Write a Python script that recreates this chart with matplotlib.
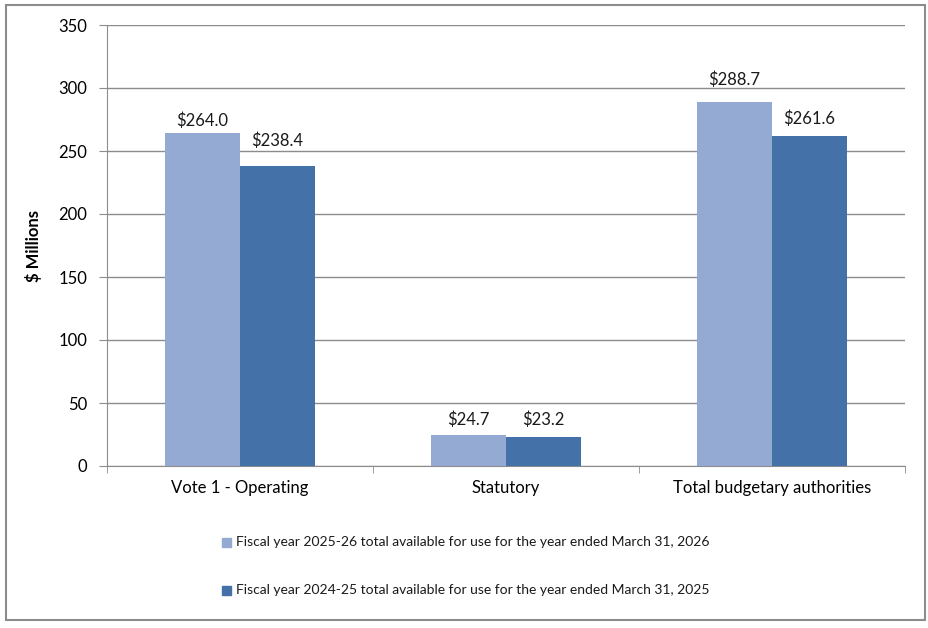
import matplotlib
matplotlib.use("Agg")
import matplotlib.pyplot as plt
from matplotlib.patches import Rectangle
import numpy as np

categories = ["Vote 1 - Operating", "Statutory", "Total budgetary authorities"]
fy2025_26 = [264.0, 24.7, 288.7]
fy2024_25 = [238.4, 23.2, 261.6]
series_labels = ["Fiscal year 2025-26 total available for use for the year ended March 31, 2026",
                 "Fiscal year 2024-25 total available for use for the year ended March 31, 2025"]
yticks = [0, 50, 100, 150, 200, 250, 300, 350]

# label baseline offsets above bar tops (style)
off_light = [5.8, 7.8, 13.7]
off_dark = [15.6, 9.3, 9.8]

plt.rcParams['font.family'] = ['Lato', 'DejaVu Sans']
light = "#95AAD2"
dark = "#4472A8"
grid = "#8C8C8C"

fig = plt.figure(figsize=(9.29, 6.28), dpi=100)
W, H = 929, 628
ax = fig.add_axes([107/W, 1-466/H, (905-107)/W, (466-25)/H])

x = np.arange(len(categories))
bw = 75/266
ax.bar(x - bw/2, fy2025_26, bw, color=light, label=series_labels[0], zorder=3)
ax.bar(x + bw/2, fy2024_25, bw, color=dark, label=series_labels[1], zorder=3)
for xi, v, o in zip(x, fy2025_26, off_light):
    ax.text(xi - bw/2, v + o, f"${v:.1f}", ha='center', va='baseline', fontsize=12, color='#1a1a1a', zorder=4)
for xi, v, o in zip(x, fy2024_25, off_dark):
    ax.text(xi + bw/2, v + o, f"${v:.1f}", ha='center', va='baseline', fontsize=12, color='#1a1a1a', zorder=4)

ax.set_xlim(-0.5, 2.5)
ax.set_ylim(0, 350)
ax.set_yticks(yticks)
ax.yaxis.grid(True, color=grid, linewidth=1, zorder=0)
ax.set_xticks(x)
ax.set_xticklabels(categories, fontsize=12)
ax.set_xticks([-0.5, 0.5, 1.5, 2.5], minor=True)
ax.tick_params(axis='x', which='major', length=0, pad=10)
ax.tick_params(axis='x', which='minor', length=5, color=grid, direction='out')
ax.tick_params(axis='y', length=6, color=grid, labelsize=12, pad=8)
for s in ['top', 'right']:
    ax.spines[s].set_visible(False)
for s in ['left', 'bottom']:
    ax.spines[s].set_color(grid)
ax.set_ylabel("$ Millions", fontsize=12, fontweight='bold', labelpad=12)

# legend entries
for i, (lab, col) in enumerate(zip(series_labels, [light, dark])):
    yy = 1 - (542 + 48*i)/H
    fig.patches.append(Rectangle((222/W, yy - 4.5/H), 9/W, 9/H, transform=fig.transFigure,
                                 color=col))
    fig.text(236/W, yy, lab, fontsize=10, va='center', ha='left', color='#1a1a1a')

# border
fig.patches.append(Rectangle((6/W, 1-620/H), (925-6)/W, (620-5)/H, transform=fig.transFigure,
                             fill=False, edgecolor='#8C8C8C', linewidth=1.5))

fig.savefig("out.png", dpi=100)
